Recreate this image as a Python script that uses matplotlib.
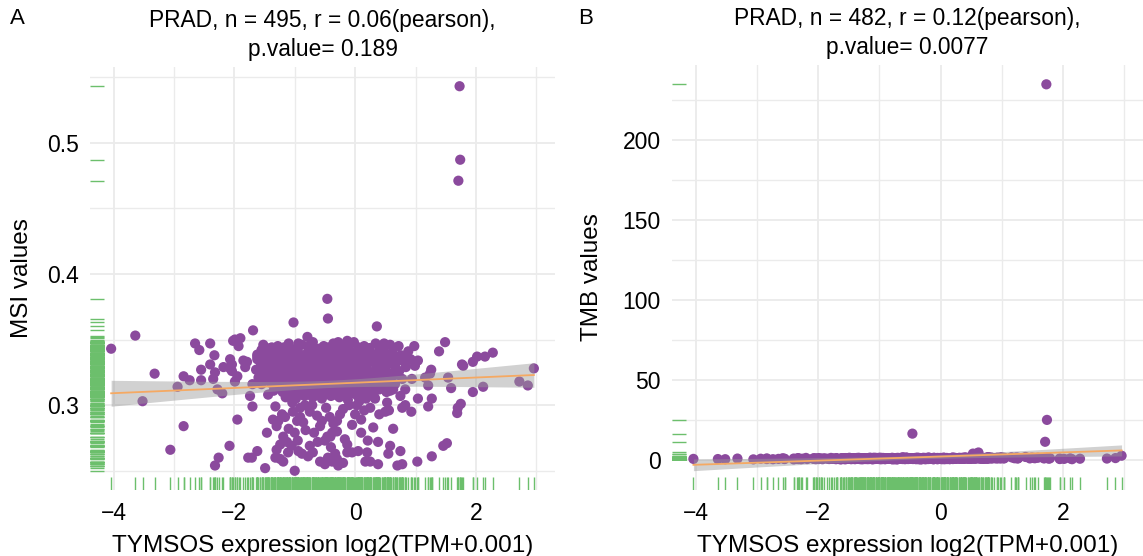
import numpy as np
import matplotlib.pyplot as plt
from matplotlib.ticker import FuncFormatter

plt.rcParams['font.family'] = ['Liberation Sans', 'DejaVu Sans']

# TYMSOS expression (x) with MSI (panel A) and TMB (panel B)

# high MSI / high TMB samples
outlier_x = [1.73, 1.74, 1.71, -0.46]
outlier_msi = [0.543, 0.487, 0.471, 0.381]
outlier_tmb = [235.0, 25.0, 11.3, 16.4]

# scattered points outside the dense cloud
sparse_x = [
    -4.04, -3.64, -3.52, -3.32, -3.06, -2.94, -2.84, -2.84, -2.74, -2.65,
    -2.58, -2.55, -2.55, -2.40, -2.40, -2.35, -2.33, -2.32, -2.32, -2.28,
    -2.26, -2.20, -2.18, -2.08, -2.07, -2.07, -2.04, -2.04, -2.02, -1.99,
    -1.99, -1.95, -1.95, -1.93, -1.90, -1.85, -1.82, -1.79, -1.77, -1.74,
    -1.71, -1.70, -1.70, -1.69, -1.62, -1.62, -1.49, -1.46, -1.46, -1.44,
    -1.44, -1.38, -1.36, -1.32, -1.32, -1.30, -1.30, -1.27, -1.24, -1.24,
    -1.21, -1.19, -1.19, -1.16, -1.13, -1.11, -1.04, -1.03, -1.02, -1.00,
    -0.96, -0.94, -0.94, -0.91, -0.91, -0.88, -0.86, -0.83, -0.79, -0.78,
    -0.75, -0.75, -0.71, -0.70, -0.66, -0.63, -0.58, -0.58, -0.55, -0.50,
    -0.50, -0.46, -0.45, -0.45, -0.41, -0.38, -0.38, -0.33, -0.30, -0.30,
    -0.28, -0.28, -0.25, -0.20, -0.17, -0.13, -0.13, -0.13, -0.05, 0.00,
    0.03, 0.05, 0.07, 0.17, 0.20, 0.20, 0.21, 0.25, 0.33, 0.36,
    0.38, 0.38, 0.48, 0.48, 0.50, 0.53, 0.56, 0.55, 0.58, 0.58,
    0.63, 0.63, 0.70, 0.75, 0.75, 0.78, 0.78, 0.78, 0.80, 0.83,
    0.83, 0.93, 0.94, 0.98, 0.99, 1.03, 1.04, 1.04, 1.16, 1.21,
    1.21, 1.24, 1.26, 1.27, 1.27, 1.39, 1.46, 1.49, 1.52, 1.54,
    1.59, 1.69, 1.70, 1.75, 1.77, 1.79, 1.95, 1.95, 2.02, 2.12,
    2.15, 2.28, 2.72, 2.86, 2.96,
    -0.48, -0.42, -0.36, -0.20, -0.10, -0.05, 0.10, 0.15, 0.25, 0.40,
    -1.10, -1.00, -0.82, -0.68, -0.62, -0.40, -0.95, -1.05, -0.30, 0.10,
    0.30,
]
sparse_msi = [
    0.343, 0.353, 0.303, 0.324, 0.266, 0.314, 0.322, 0.284, 0.319, 0.347,
    0.342, 0.327, 0.319, 0.347, 0.331, 0.320, 0.338, 0.325, 0.254, 0.312,
    0.260, 0.309, 0.329, 0.269, 0.335, 0.328, 0.331, 0.326, 0.349, 0.350,
    0.318, 0.322, 0.289, 0.345, 0.351, 0.334, 0.329, 0.333, 0.260, 0.307,
    0.260, 0.316, 0.299, 0.357, 0.337, 0.265, 0.252, 0.279, 0.325, 0.341,
    0.308, 0.344, 0.289, 0.299, 0.260, 0.284, 0.266, 0.288, 0.259, 0.270,
    0.293, 0.276, 0.257, 0.291, 0.272, 0.264, 0.302, 0.295, 0.363, 0.250,
    0.288, 0.347, 0.265, 0.298, 0.291, 0.263, 0.287, 0.300, 0.352, 0.261,
    0.295, 0.269, 0.300, 0.264, 0.341, 0.292, 0.284, 0.257, 0.288, 0.255,
    0.273, 0.276, 0.366, 0.260, 0.276, 0.279, 0.257, 0.263, 0.288, 0.259,
    0.348, 0.254, 0.293, 0.256, 0.274, 0.349, 0.270, 0.264, 0.264, 0.293,
    0.300, 0.265, 0.303, 0.257, 0.343, 0.264, 0.273, 0.257, 0.305, 0.360,
    0.272, 0.255, 0.347, 0.341, 0.295, 0.302, 0.296, 0.263, 0.311, 0.269,
    0.312, 0.282, 0.254, 0.307, 0.265, 0.334, 0.298, 0.255, 0.337, 0.312,
    0.300, 0.295, 0.320, 0.345, 0.330, 0.257, 0.334, 0.305, 0.321, 0.315,
    0.299, 0.324, 0.327, 0.305, 0.261, 0.341, 0.269, 0.348, 0.271, 0.321,
    0.313, 0.294, 0.298, 0.301, 0.331, 0.330, 0.333, 0.310, 0.337, 0.314,
    0.337, 0.340, 0.318, 0.315, 0.328,
    0.298, 0.291, 0.286, 0.297, 0.300, 0.285, 0.289, 0.296, 0.298, 0.293,
    0.282, 0.279, 0.281, 0.279, 0.272, 0.268, 0.273, 0.269, 0.280, 0.279,
    0.283,
]
sparse_tmb = [
    0.6, 0.5, 0.4, 0.8, 0.3, 0.7, 0.5, 0.9, 0.4, 0.6,
    1.0, 0.5, 0.7, 0.3, 0.8, 0.6, 1.1, 0.5, 0.9, 0.4,
    0.7, 1.2, 0.5, 0.8, 0.6, 1.0, 0.4, 0.9, 0.7, 0.5,
    1.1, 0.6, 0.8, 0.4, 1.0, 0.7, 0.5, 1.2, 0.6, 0.9,
    0.4, 0.8, 1.1, 0.6, 0.9, 0.5, 1.3, 0.7, 0.4, 1.0,
    0.8, 0.6, 1.2, 0.5, 0.9, 0.7, 1.1, 0.4, 0.8, 1.0,
    0.6, 0.9, 0.5, 1.3, 0.7, 0.4, 1.0, 0.8, 0.6, 1.2,
    0.5, 0.9, 0.7, 1.1, 0.4, 0.8, 1.0, 0.6, 1.3, 0.7,
    0.9, 0.5, 1.2, 0.7, 0.6, 1.0, 0.8, 0.4, 1.1, 0.7,
    0.6, 1.0, 0.8, 0.5, 1.2, 0.9, 0.6, 1.1, 0.7, 0.4,
    1.0, 0.7, 0.5, 1.3, 0.8, 0.6, 1.1, 0.9, 0.5, 1.2,
    0.8, 0.6, 1.0, 0.7, 1.4, 0.5, 0.9, 1.1, 0.6, 1.3,
    0.9, 0.7, 1.5, 1.0, 0.6, 3.9, 1.2, 0.8, 1.4, 0.7,
    1.1, 0.9, 0.6, 1.3, 0.8, 1.6, 1.0, 0.7, 1.2, 1.5,
    0.9, 1.4, 1.1, 0.8, 1.7, 1.0, 1.3, 0.9, 1.6, 1.2,
    1.0, 1.5, 0.8, 1.3, 1.1, 1.8, 0.9, 1.4, 1.2, 1.0,
    1.3, 0.9, 1.1, 1.5, 0.7, 1.0, 0.5, 0.8, 0.6, 0.9,
    0.4, 0.7, 0.8, 1.1, 2.6,
    0.8, 1.1, 0.6, 0.9, 1.2, 0.7, 1.0, 0.5, 0.8, 1.3,
    0.6, 0.9, 0.7, 1.1, 0.5, 0.8, 1.0, 0.6, 0.9, 0.7,
    1.0,
]

# dense cloud, one row per line
core_x = [
    -1.52, -1.28, -1.10, -0.88, -0.70, -0.52, -0.36, -0.20, -0.02, 0.15, 0.34, 0.58, 0.72,
    -1.55, -1.40, -1.25, -1.08, -0.95, -0.80, -0.62, -0.48, -0.33, -0.18, -0.05, 0.08, 0.25, 0.40, 0.62, 0.88,
    -1.62, -1.47, -1.33, -1.17, -1.02, -0.87, -0.72, -0.56, -0.42, -0.27, -0.12, 0.02, 0.16, 0.31, 0.45, 0.58, 0.70, 0.92,
    -1.55, -1.40, -1.26, -1.12, -0.98, -0.83, -0.68, -0.53, -0.38, -0.24, -0.09, 0.05, 0.20, 0.34, 0.50, 0.66, 0.84,
    -1.64, -1.49, -1.34, -1.20, -1.05, -0.90, -0.76, -0.61, -0.46, -0.32, -0.17, -0.03, 0.12, 0.27, 0.42, 0.57, 0.73,
    -1.60, -1.45, -1.30, -1.16, -1.01, -0.86, -0.72, -0.57, -0.43, -0.28, -0.14, 0.01, 0.15, 0.30, 0.45, 0.60, 0.78,
    -1.55, -1.40, -1.25, -1.10, -0.96, -0.81, -0.66, -0.52, -0.38, -0.23, -0.08, 0.06, 0.21, 0.36, 0.50, 0.66,
    -1.35, -1.20, -1.05, -0.90, -0.76, -0.61, -0.47, -0.33, -0.18, -0.04, 0.11, 0.26, 0.40, 0.52,
    -1.15, -0.98, -0.84, -0.70, -0.55, -0.40, -0.26, -0.12, 0.04, 0.18, 0.32,
    -1.40, -1.18, -0.98, -0.78, -0.60, -0.44, -0.28, -0.10, 0.06, 0.24, 0.46,
    -1.62, -1.48, -1.32, -1.15, -1.00, -0.86, -0.70, -0.55, -0.40, -0.25, -0.11, 0.12, 0.33, 0.52, 0.76,
    -1.58, -1.42, -1.27, -1.10, -0.94, -0.79, -0.64, -0.49, -0.34, -0.20, -0.06, 0.10, 0.24, 0.38, 0.55, 0.78,
    -1.57, -1.42, -1.28, -1.13, -0.98, -0.84, -0.69, -0.54, -0.40, -0.25, -0.10, 0.04, 0.19, 0.35, 0.50, 0.66,
    -1.52, -1.38, -1.23, -1.08, -0.94, -0.79, -0.64, -0.50, -0.36, -0.21, -0.06, 0.08, 0.22, 0.37, 0.52, 0.68,
    -1.38, -1.23, -1.08, -0.93, -0.79, -0.64, -0.50, -0.35, -0.21, -0.06, 0.08, 0.23, 0.38, 0.55,
    -1.28, -1.13, -0.98, -0.84, -0.69, -0.55, -0.40, -0.26, -0.11, 0.03, 0.18, 0.34,
    -1.05, -0.90, -0.76, -0.62, -0.48, -0.33, -0.19, -0.05, 0.10, 0.25,
]
core_msi = [
    0.346, 0.345, 0.347, 0.346, 0.348, 0.345, 0.347, 0.346, 0.348, 0.345, 0.347, 0.346, 0.345,
    0.342, 0.341, 0.340, 0.342, 0.341, 0.339, 0.342, 0.340, 0.341, 0.342, 0.340, 0.341, 0.339, 0.342, 0.340, 0.341,
    0.335, 0.337, 0.336, 0.335, 0.337, 0.336, 0.335, 0.337, 0.336, 0.335, 0.337, 0.336, 0.334, 0.337, 0.335, 0.336, 0.337, 0.335,
    0.332, 0.331, 0.329, 0.332, 0.330, 0.331, 0.332, 0.330, 0.331, 0.329, 0.332, 0.330, 0.331, 0.332, 0.330, 0.331, 0.329,
    0.327, 0.325, 0.326, 0.327, 0.325, 0.326, 0.327, 0.324, 0.326, 0.327, 0.325, 0.326, 0.327, 0.325, 0.326, 0.324, 0.326,
    0.321, 0.320, 0.322, 0.321, 0.319, 0.322, 0.320, 0.321, 0.322, 0.320, 0.321, 0.319, 0.322, 0.320, 0.321, 0.322, 0.320,
    0.316, 0.317, 0.315, 0.316, 0.317, 0.315, 0.316, 0.317, 0.314, 0.316, 0.317, 0.315, 0.316, 0.317, 0.315, 0.316,
    0.311, 0.310, 0.312, 0.311, 0.309, 0.312, 0.310, 0.311, 0.312, 0.310, 0.311, 0.309, 0.312, 0.310,
    0.306, 0.305, 0.307, 0.306, 0.305, 0.307, 0.306, 0.304, 0.307, 0.305, 0.306,
    0.3435, 0.344, 0.343, 0.3445, 0.343, 0.344, 0.3435, 0.343, 0.344, 0.3435, 0.343,
    0.3385, 0.339, 0.338, 0.3385, 0.339, 0.338, 0.3385, 0.339, 0.338, 0.3385, 0.339, 0.338, 0.3385, 0.339, 0.338,
    0.334, 0.333, 0.3335, 0.334, 0.333, 0.3335, 0.334, 0.333, 0.3335, 0.334, 0.333, 0.3335, 0.334, 0.333, 0.3335, 0.334,
    0.329, 0.328, 0.3285, 0.329, 0.328, 0.3285, 0.329, 0.328, 0.3285, 0.329, 0.328, 0.3285, 0.329, 0.328, 0.3285, 0.329,
    0.3235, 0.324, 0.323, 0.3235, 0.324, 0.323, 0.3235, 0.324, 0.323, 0.3235, 0.324, 0.323, 0.3235, 0.324, 0.323, 0.3235,
    0.3185, 0.319, 0.318, 0.3185, 0.319, 0.318, 0.3185, 0.319, 0.318, 0.3185, 0.319, 0.318, 0.3185, 0.319,
    0.3135, 0.314, 0.313, 0.3135, 0.314, 0.313, 0.3135, 0.314, 0.313, 0.3135, 0.314, 0.313,
    0.3085, 0.309, 0.308, 0.3085, 0.309, 0.308, 0.3085, 0.309, 0.308, 0.3085,
]
core_tmb = [
    0.8, 0.5, 1.2, 0.7, 0.4, 1.0, 0.6, 1.4, 0.9, 0.5, 1.1, 3.8, 0.7,
    1.1, 0.4, 0.9, 1.3, 0.5, 0.8, 1.6, 0.7, 0.3, 1.0, 1.2, 0.6, 0.9, 1.4, 4.6, 1.0,
    0.4, 0.7, 1.2, 0.5, 1.0, 0.8, 0.3, 1.5, 0.6, 0.9, 1.1, 0.4, 0.8, 1.3, 0.7, 1.9, 1.2, 0.8,
    1.1, 0.6, 0.9, 0.4, 1.3, 0.7, 1.0, 0.5, 0.8, 1.2, 0.6, 1.4, 0.9, 0.7, 1.1, 1.6, 0.9,
    0.3, 0.9, 1.2, 0.6, 0.8, 1.0, 0.5, 1.3, 0.7, 0.4, 0.9, 1.1, 0.6, 0.8, 1.4, 1.0, 1.2,
    1.0, 0.6, 0.4, 0.9, 1.2, 0.7, 0.5, 1.1, 0.8, 1.3, 0.6, 0.9, 0.5, 1.0, 0.7, 1.2, 1.5,
    0.4, 0.8, 1.1, 0.5, 0.7, 1.0, 0.6, 0.9, 1.4, 0.5, 0.8, 1.2, 0.7, 0.9, 1.1, 0.6,
    0.9, 0.5, 1.2, 0.7, 0.4, 1.0, 0.8, 0.6, 1.3, 0.9, 0.5, 1.1, 0.7, 1.0,
    0.6, 1.0, 0.8, 0.5, 1.2, 0.7, 0.9, 0.4, 1.1, 0.8, 0.6,
    0.7, 1.1, 0.5, 0.9, 1.3, 0.6, 0.8, 1.0, 0.4, 1.2, 0.9,
    1.0, 0.6, 0.8, 1.2, 0.5, 0.9, 0.7, 1.1, 0.4, 0.8, 1.3, 0.6, 1.0, 1.4, 0.8,
    0.9, 1.1, 0.6, 0.8, 1.0, 0.4, 1.2, 0.7, 0.9, 0.5, 1.1, 0.8, 0.6, 1.3, 1.0, 1.7,
    0.4, 1.0, 0.7, 1.2, 0.5, 0.9, 0.6, 1.1, 0.8, 0.4, 1.0, 0.7, 1.3, 0.9, 1.5, 1.1,
    0.6, 1.0, 0.8, 0.5, 1.2, 0.7, 0.9, 1.1, 0.4, 0.8, 1.0, 0.6, 1.3, 0.7, 0.9, 1.2,
    0.9, 0.5, 1.1, 0.7, 0.4, 1.0, 0.8, 1.2, 0.6, 0.9, 0.5, 1.1, 0.8, 1.0,
    0.7, 1.0, 0.5, 0.9, 1.2, 0.6, 0.8, 1.1, 0.4, 0.9, 0.7, 1.0,
    0.8, 0.5, 1.1, 0.7, 0.9, 0.6, 1.0, 0.4, 1.2, 0.8,
]

expr = np.array(outlier_x + sparse_x + core_x)
msi = np.array(outlier_msi + sparse_msi + core_msi)
tmb = np.array(outlier_tmb + sparse_tmb + core_tmb)

purple = '#8B4A9D'
orange = '#F5A963'
green = '#6CBF6C'
grid_col = '#EBEBEB'


def lm_band(x, y):
    # linear fit with 95% confidence band, like geom_smooth(method = "lm")
    n = len(x)
    xm = x.mean()
    sxx = ((x - xm) ** 2).sum()
    b = ((x - xm) * (y - y.mean())).sum() / sxx
    a = y.mean() - b * xm
    s = np.sqrt(((y - a - b * x) ** 2).sum() / (n - 2))
    xs = np.linspace(x.min(), x.max(), 80)
    fit = a + b * xs
    se = s * np.sqrt(1 / n + (xs - xm) ** 2 / sxx)
    return xs, fit, fit - 1.965 * se, fit + 1.965 * se


def fmt(v, pos):
    return ('%g' % v).replace('-', '\u2212')


def panel(ax, x, y, title, ylabel, ymajor, yminor, ypad):
    ax.scatter(x, y, s=54, color=purple, edgecolors='none', zorder=3)
    xs, fit, lo, hi = lm_band(x, y)
    ax.fill_between(xs, lo, hi, color='#999999', alpha=0.45, lw=0, zorder=4)
    ax.plot(xs, fit, color=orange, lw=1.3, zorder=5)
    ax.vlines(x, 0, 0.03, transform=ax.get_xaxis_transform(), colors=green, lw=1.0, zorder=2)
    ax.hlines(y, 0, 0.03, transform=ax.get_yaxis_transform(), colors=green, lw=1.0, zorder=2)

    x0, x1 = x.min(), x.max()
    y0, y1 = min(y.min(), lo.min()), max(y.max(), hi.max())
    ax.set_xlim(x0 - 0.05 * (x1 - x0), x1 + 0.05 * (x1 - x0))
    ax.set_ylim(y0 - 0.05 * (y1 - y0), y1 + 0.05 * (y1 - y0))

    ax.set_xticks([-4, -2, 0, 2])
    ax.set_xticks([-3, -1, 1, 3], minor=True)
    ax.set_yticks(ymajor)
    ax.set_yticks(yminor, minor=True)
    ax.xaxis.set_major_formatter(FuncFormatter(fmt))
    ax.yaxis.set_major_formatter(FuncFormatter(fmt))
    ax.grid(which='major', color=grid_col, lw=1.3)
    ax.grid(which='minor', color=grid_col, lw=1.0)
    ax.set_axisbelow(True)
    ax.tick_params(which='both', length=0, labelsize=16.5, colors='black')
    ax.tick_params(axis='x', pad=9)
    ax.tick_params(axis='y', pad=8)
    for sp in ax.spines.values():
        sp.set_visible(False)

    ax.set_title(title, fontsize=16.4, pad=8, linespacing=1.3)
    ax.set_xlabel('TYMSOS expression log2(TPM+0.001)', fontsize=17.5, labelpad=7)
    ax.set_ylabel(ylabel, fontsize=17.5, labelpad=ypad)


fig = plt.figure(figsize=(11.43, 5.56), dpi=100)
ax1 = fig.add_axes([90 / 1143, 66 / 556, 465 / 1143, 423 / 556])
ax2 = fig.add_axes([672 / 1143, 66 / 556, 471 / 1143, 425 / 556])

panel(ax1, expr, msi, 'PRAD, n = 495, r = 0.06(pearson),\np.value= 0.189', 'MSI values',
      [0.3, 0.4, 0.5], [0.25, 0.35, 0.45, 0.55], 10)
panel(ax2, expr, tmb, 'PRAD, n = 482, r = 0.12(pearson),\np.value= 0.0077', 'TMB values',
      [0, 50, 100, 150, 200], [25, 75, 125, 175, 225], 14)

fig.text(10 / 1143, 1 - 18 / 556, 'A', fontsize=16, va='center', ha='left')
fig.text(578 / 1143, 1 - 18 / 556, 'B', fontsize=16, va='center', ha='left')

plt.savefig('out.png', dpi=100)
